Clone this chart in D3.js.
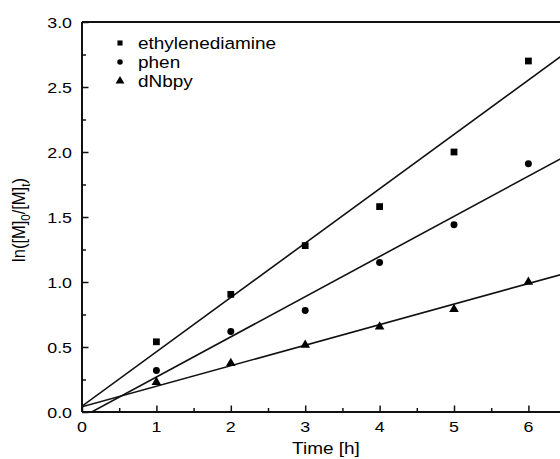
<!DOCTYPE html>
<html>
<head>
<meta charset="utf-8">
<script src="https://cdn.jsdelivr.net/npm/d3@7"></script>
<style>
html,body{margin:0;padding:0;background:#fff;}
svg{display:block;}
text{font-family:"Liberation Sans",Arial,Helvetica,sans-serif;fill:#000;}
</style>
</head>
<body>
<svg id="chart" width="560" height="459"></svg>
<script>
// ---- data ----
const times = [1, 2, 3, 4, 5, 6];
const ethylenediamine = [0.54, 0.905, 1.28, 1.58, 2.0, 2.70];
const phen = [0.32, 0.62, 0.78, 1.15, 1.44, 1.91];
const dNbpy = [0.23, 0.375, 0.515, 0.656, 0.79, 1.0];
const seriesNames = ["ethylenediamine", "phen", "dNbpy"];
const fitIntercepts = [0.045, -0.04, 0.04];
const fitSlopes = [0.418, 0.309, 0.158];
const xTicks = [0, 1, 2, 3, 4, 5, 6];
const yTicks = [0.0, 0.5, 1.0, 1.5, 2.0, 2.5, 3.0];

const svg = d3.select("#chart");
const SX = 1.15; // horizontal stretch of the original picture's text

const x = d3.scaleLinear().domain([0, 6.5]).range([82, 82 + 6.5 * 74.4]);
const y = d3.scaleLinear().domain([0, 3]).range([412, 22]);

function stretchedText(g, px, py, str, size, anchor) {
  const t = g.append("g").attr("transform", `translate(${px},${py}) scale(${SX},1)`)
    .append("text").attr("x", 0).attr("y", 0)
    .attr("font-size", size).attr("text-anchor", anchor || "start");
  t.text(str);
  return t;
}

// clip to plot area
svg.append("clipPath").attr("id", "plotclip").append("rect")
  .attr("x", x(0)).attr("y", y(3)).attr("width", x(6.5) - x(0)).attr("height", y(0) - y(3));

// axes frame
const frame = svg.append("g").attr("stroke", "#111").attr("stroke-width", 2).attr("fill", "none");
frame.append("line").attr("x1", x(0)).attr("x2", x(6.5)).attr("y1", y(0)).attr("y2", y(0));
frame.append("line").attr("x1", x(0)).attr("x2", x(6.5)).attr("y1", y(3)).attr("y2", y(3));
frame.append("line").attr("x1", x(0)).attr("x2", x(0)).attr("y1", y(0)).attr("y2", y(3));
frame.append("line").attr("x1", x(6.5)).attr("x2", x(6.5)).attr("y1", y(0)).attr("y2", y(3));

// x ticks (inward)
const xAxis = d3.axisTop(x).tickValues(xTicks).tickSize(6.5).tickFormat("");
const gx = svg.append("g").attr("transform", `translate(0,${y(0)})`).call(xAxis);
gx.select(".domain").remove();
gx.selectAll(".tick line").attr("stroke", "#111").attr("stroke-width", 1.5);
const xMinor = d3.axisTop(x).tickValues(d3.range(0.5, 6.5, 1)).tickSize(4).tickFormat("");
const gxm = svg.append("g").attr("transform", `translate(0,${y(0)})`).call(xMinor);
gxm.select(".domain").remove();
gxm.selectAll(".tick line").attr("stroke", "#111").attr("stroke-width", 1.5);

// y ticks (inward)
const yAxis = d3.axisRight(y).tickValues(yTicks).tickSize(6.5).tickFormat("");
const gy = svg.append("g").attr("transform", `translate(${x(0)},0)`).call(yAxis);
gy.select(".domain").remove();
gy.selectAll(".tick line").attr("stroke", "#111").attr("stroke-width", 1.5);
const yMinor = d3.axisRight(y).tickValues(d3.range(0.25, 3, 0.5)).tickSize(4).tickFormat("");
const gym = svg.append("g").attr("transform", `translate(${x(0)},0)`).call(yMinor);
gym.select(".domain").remove();
gym.selectAll(".tick line").attr("stroke", "#111").attr("stroke-width", 1.5);

// tick labels
const labels = svg.append("g");
xTicks.forEach(v => stretchedText(labels, x(v), 432, String(v), 15.5, "middle"));
yTicks.forEach(v => stretchedText(labels, 72, y(v) + 5.5, v.toFixed(1), 15.5, "end"));

// axis titles
stretchedText(labels, 326, 454, "Time [h]", 16.5, "middle");
const yl = svg.append("g").attr("transform", `translate(25,220) scale(${SX},1) rotate(-90)`)
  .append("text").attr("font-size", 16.5).attr("text-anchor", "middle");
yl.append("tspan").text("ln([M]");
yl.append("tspan").attr("font-size", 11.5).attr("dy", 4).text("0");
yl.append("tspan").attr("dy", -4).text("/[M]");
yl.append("tspan").attr("font-size", 11.5).attr("dy", 4).text("t");
yl.append("tspan").attr("dy", -4).text(")");

// fitted lines
const plot = svg.append("g").attr("clip-path", "url(#plotclip)");
const line = d3.line().x(d => x(d[0])).y(d => y(d[1]));
seriesNames.forEach((name, i) => {
  const pts = [0, 6.5].map(t => [t, fitIntercepts[i] + fitSlopes[i] * t]);
  plot.append("path").attr("d", line(pts)).attr("fill", "none")
    .attr("stroke", "#111").attr("stroke-width", 1.6);
});

// markers
const symbols = [d3.symbolSquare, d3.symbolCircle, d3.symbolTriangle];
const sizes = [46, 38, 40];
const data = [ethylenediamine, phen, dNbpy];
data.forEach((vals, i) => {
  svg.append("g").selectAll("path").data(times).join("path")
    .attr("d", d3.symbol().type(symbols[i]).size(sizes[i]))
    .attr("transform", (t, j) => `translate(${x(t)},${y(vals[j])})`)
    .attr("fill", "#000");
});

// legend
const legendY = [43, 62, 81];
const legendSizes = [26, 24, 34];
const leg = svg.append("g");
seriesNames.forEach((name, i) => {
  leg.append("path").attr("d", d3.symbol().type(symbols[i]).size(legendSizes[i]))
    .attr("transform", `translate(120,${legendY[i]})`).attr("fill", "#000");
  stretchedText(leg, 138, legendY[i] + 5.5, name, 16.5, "start");
});
</script>
</body>
</html>
